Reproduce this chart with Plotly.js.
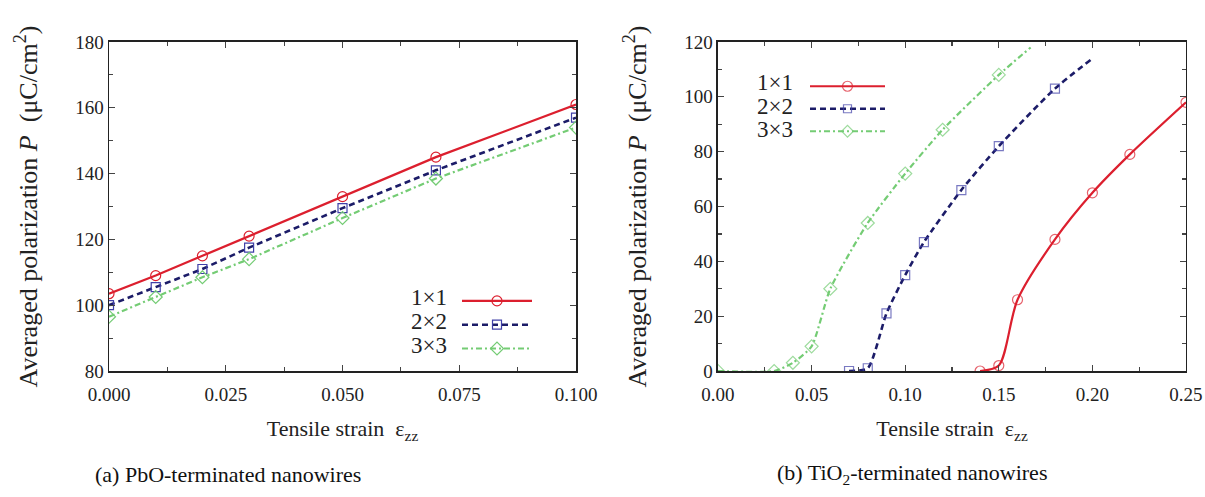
<!DOCTYPE html>
<html>
<head>
<meta charset="utf-8">
<script src="https://cdn.plot.ly/plotly-3.0.1.min.js"></script>
<style>html,body{margin:0;padding:0;background:#fff;}#chart{width:1205px;height:497px;}</style>
</head>
<body>
<div id="chart"></div>
<script>
// ---- Panel (a): PbO-terminated ----
const strainA = [0.00, 0.01, 0.02, 0.03, 0.05, 0.07, 0.10];
const pA_1x1 = [103.5, 109, 115, 121, 133, 145, 161];
const pA_2x2 = [100, 105.5, 111, 117.5, 129.5, 141, 157];
const pA_3x3 = [96.5, 102.5, 108.5, 114, 126.5, 138.5, 154];

// ---- Panel (b): TiO2-terminated ----
const strainB_1x1 = [0.14, 0.15, 0.16, 0.18, 0.20, 0.22, 0.25];
const pB_1x1 = [0, 2, 26, 48, 65, 79, 98];
const strainB_2x2 = [0.07, 0.08, 0.09, 0.10, 0.11, 0.13, 0.15, 0.18, 0.20];
const pB_2x2 = [0, 1, 21, 35, 47, 66, 82, 103, 114];
const strainB_3x3 = [0.00, 0.03, 0.04, 0.05, 0.06, 0.08, 0.10, 0.12, 0.15, 0.167];
const pB_3x3 = [0, 0, 3, 9, 30, 54, 72, 88, 108, 118];

const seriesNames = ["1×1", "2×2", "3×3"];
const ticksA = {x: [0, 0.025, 0.05, 0.075, 0.1], y: [80, 100, 120, 140, 160, 180]};
const ticksB = {x: [0, 0.05, 0.1, 0.15, 0.2, 0.25], y: [0, 20, 40, 60, 80, 100, 120]};

const RED = '#dc1f2e', NAVY = '#1c1c68', GREEN = '#74cc74';
const FONT = 'Liberation Serif, Times New Roman, serif';

function markerSizes(arr, size, tail) {
  return arr.map((_, i) => (tail && i === arr.length - 1) ? 0 : size);
}

const traces = [
  {x: strainA, y: pA_1x1, name: ' ', xaxis: 'x', yaxis: 'y', legend: 'legend', mode: 'lines+markers',
   line: {color: RED, width: 2.2}, marker: {symbol: 'circle-open', size: 10, color: RED, line: {width: 1.2}}},
  {x: strainA, y: pA_2x2, name: ' ', xaxis: 'x', yaxis: 'y', legend: 'legend', mode: 'lines+markers',
   line: {color: NAVY, width: 2.6, dash: '6px,4px'}, marker: {symbol: 'square-open', size: 9, color: '#4040a8', line: {width: 1.2}}},
  {x: strainA, y: pA_3x3, name: ' ', xaxis: 'x', yaxis: 'y', legend: 'legend', mode: 'lines+markers',
   line: {color: GREEN, width: 2.2, dash: '6px,3px,2px,3px'}, marker: {symbol: 'diamond-open', size: 10, color: GREEN, line: {width: 1.2}}},

  {x: strainB_1x1, y: pB_1x1, name: ' ', xaxis: 'x2', yaxis: 'y2', legend: 'legend2', mode: 'lines+markers',
   line: {color: RED, width: 2.2, shape: 'spline', smoothing: 0.8}, marker: {symbol: 'circle-open', size: markerSizes(strainB_1x1, 10, false), color: RED, line: {width: 1.2}}},
  {x: strainB_2x2, y: pB_2x2, name: ' ', xaxis: 'x2', yaxis: 'y2', legend: 'legend2', mode: 'lines+markers',
   line: {color: NAVY, width: 2.6, dash: '6px,4px', shape: 'spline', smoothing: 0.6}, marker: {symbol: 'square-open', size: markerSizes(strainB_2x2, 9, true), color: '#4040a8', line: {width: 1.2}}},
  {x: strainB_3x3, y: pB_3x3, name: ' ', xaxis: 'x2', yaxis: 'y2', legend: 'legend2', mode: 'lines+markers',
   line: {color: GREEN, width: 2.2, dash: '6px,3px,2px,3px', shape: 'spline', smoothing: 0.6}, marker: {symbol: 'diamond-open', size: markerSizes(strainB_3x3, 10, true), color: GREEN, line: {width: 1.2}}}
];

function axisCommon() {
  return {
    showline: true, linecolor: '#222', linewidth: 1.5, mirror: 'allticks',
    ticks: 'inside', ticklen: 6, tickwidth: 1.2, tickcolor: '#444',
    showgrid: false, zeroline: false,
    tickfont: {family: FONT, size: 19, color: '#222'}
  };
}

const yTitle = 'Averaged polarization <i>P</i>  (μC/cm<sup>2</sup>)';
const xTitle = 'Tensile strain  ε<sub>zz</sub>';

const layout = {
  width: 1205, height: 497,
  margin: {l: 0, r: 0, t: 0, b: 0},
  paper_bgcolor: '#fff', plot_bgcolor: '#fff',
  font: {family: FONT, color: '#222'},
  xaxis: Object.assign(axisCommon(), {domain: [0.09046, 0.47801], anchor: 'y', range: [0, 0.1],
    tickvals: ticksA.x, tickformat: '.3f', ticklabelstandoff: 6, minor: {dtick: 0.0125, ticks: 'inside', ticklen: 4, tickcolor: '#444'},
    title: {text: xTitle, font: {family: FONT, size: 22}, standoff: 16}}),
  yaxis: Object.assign(axisCommon(), {domain: [0.2535, 0.9155], anchor: 'x', range: [80, 180],
    tickvals: ticksA.y, minor: {dtick: 10, ticks: 'inside', ticklen: 4, tickcolor: '#444'},
    title: {text: yTitle, font: {family: FONT, size: 26}, standoff: 30}}),
  xaxis2: Object.assign(axisCommon(), {domain: [0.59585, 0.98423], anchor: 'y2', range: [0, 0.25],
    tickvals: ticksB.x, tickformat: '.2f', ticklabelstandoff: 6, minor: {dtick: 0.025, ticks: 'inside', ticklen: 4, tickcolor: '#444'},
    title: {text: xTitle, font: {family: FONT, size: 22}, standoff: 16}}),
  yaxis2: Object.assign(axisCommon(), {domain: [0.2535, 0.9155], anchor: 'x2', range: [0, 120],
    tickvals: ticksB.y, minor: {dtick: 10, ticks: 'inside', ticklen: 4, tickcolor: '#444'},
    title: {text: yTitle, font: {family: FONT, size: 26}, standoff: 30}}),
  showlegend: true,
  legend: {x: 457 / 1205, xanchor: 'left', y: 1 - 284 / 497, yanchor: 'top', bgcolor: 'rgba(0,0,0,0)',
    font: {family: FONT, size: 16}, itemwidth: 70, tracegroupgap: 0},
  legend2: {x: 805 / 1205, xanchor: 'left', y: 1 - 70 / 497, yanchor: 'top', bgcolor: 'rgba(0,0,0,0)',
    font: {family: FONT, size: 15}, itemwidth: 75, tracegroupgap: 0},
  annotations: [
    ...seriesNames.map((t, i) => ({text: t, xref: 'paper', yref: 'paper', x: 449 / 1205, y: 1 - (297 + i * 24) / 497,
      xanchor: 'right', yanchor: 'middle', showarrow: false, font: {family: FONT, size: 23, color: '#222'}})),
    ...seriesNames.map((t, i) => ({text: t, xref: 'paper', yref: 'paper', x: 795 / 1205, y: 1 - (83 + i * 23) / 497,
      xanchor: 'right', yanchor: 'middle', showarrow: false, font: {family: FONT, size: 23, color: '#222'}})),
    {text: '(a) PbO-terminated nanowires', xref: 'paper', yref: 'paper', x: 228 / 1205, y: 1 - 474 / 497,
     xanchor: 'center', yanchor: 'middle', showarrow: false, font: {family: FONT, size: 22, color: '#111'}},
    {text: '(b) TiO<sub>2</sub>-terminated nanowires', xref: 'paper', yref: 'paper', x: 912 / 1205, y: 1 - 474 / 497,
     xanchor: 'center', yanchor: 'middle', showarrow: false, font: {family: FONT, size: 22, color: '#111'}}
  ]
};

Plotly.newPlot('chart', traces, layout, {displayModeBar: false, staticPlot: true});
</script>
</body>
</html>
